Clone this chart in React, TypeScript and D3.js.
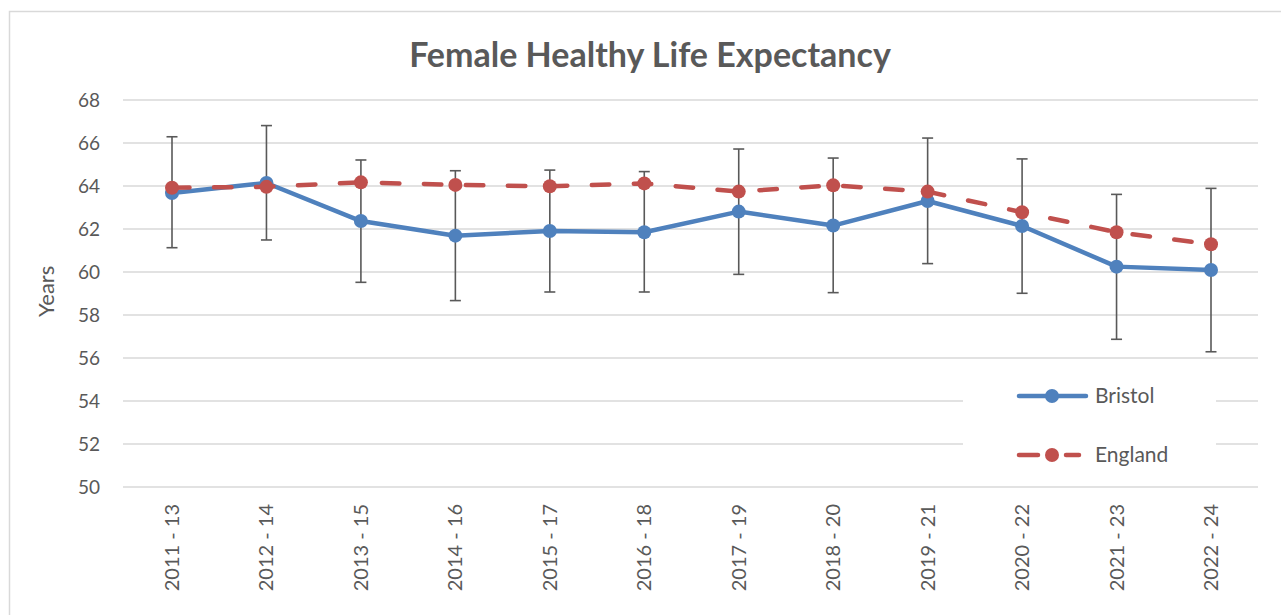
import React from 'react';
import * as d3 from 'd3';

// data
const periods = ['2011 - 13', '2012 - 14', '2013 - 15', '2014 - 16', '2015 - 17', '2016 - 18',
  '2017 - 19', '2018 - 20', '2019 - 21', '2020 - 22', '2021 - 23', '2022 - 24'];
const bristol = [63.67, 64.14, 62.37, 61.69, 61.91, 61.85, 62.81, 62.16, 63.30, 62.14, 60.25, 60.09];
const bristolLower = [61.13, 61.49, 59.52, 58.67, 59.07, 59.07, 59.89, 59.04, 60.39, 59.01, 56.87, 56.29];
const bristolUpper = [66.29, 66.81, 65.21, 64.71, 64.74, 64.67, 65.72, 65.30, 66.23, 65.26, 63.61, 63.89];
const england = [63.92, 63.96, 64.17, 64.05, 63.99, 64.12, 63.74, 64.03, 63.74, 62.78, 61.85, 61.29];
const yTicks = [50, 52, 54, 56, 58, 60, 62, 64, 66, 68];

const W = 1281;
const H = 615;
const FONT = 'Lato, "Open Sans", sans-serif';
const TEXT = '#595959';
const BLUE = '#4f81bd';
const RED = '#c0504d';

export default function App() {
  const x = d3.scalePoint<string>().domain(periods).range([172, 1211]);
  const y = d3.scaleLinear().domain([50, 68]).range([487, 100]);
  const left = 123;
  const right = 1258;

  const line = d3.line<number>()
    .x((_, i) => x(periods[i])!)
    .y(d => y(d));

  return (
    <svg width={W} height={H} style={{ position: 'absolute', left: 0, top: 0, background: '#fff' }}
      fontFamily={FONT}>
      <rect x={9.5} y={11.5} width={1280} height={640} fill="#fff" stroke="#d9d9d9" strokeWidth={1.5} />

      <text x={650} y={67} textAnchor="middle" fontSize={34} fontWeight="bold" fill={TEXT}>
        Female Healthy Life Expectancy
      </text>

      {yTicks.map(t => (
        <g key={t}>
          <line x1={left} x2={right} y1={y(t)} y2={y(t)} stroke="#d9d9d9" strokeWidth={1.5} />
          <text x={100} y={y(t)} dy="0.35em" textAnchor="end" fontSize={19} fill={TEXT}>{t}</text>
        </g>
      ))}

      <text transform={`translate(54,${y(59.1)}) rotate(-90)`} textAnchor="middle" fontSize={22} fill={TEXT}>
        Years
      </text>

      {periods.map(p => (
        <text key={p} transform={`translate(${x(p)! + 7},504) rotate(-90)`} textAnchor="end"
          fontSize={20} fill={TEXT}>{p}</text>
      ))}

      {/* error bars on Bristol */}
      {periods.map((p, i) => (
        <g key={p} stroke="#595959" strokeWidth={1.6}>
          <line x1={x(p)} x2={x(p)} y1={y(bristolUpper[i])} y2={y(bristolLower[i])} />
          <line x1={x(p)! - 5.5} x2={x(p)! + 5.5} y1={y(bristolUpper[i])} y2={y(bristolUpper[i])} />
          <line x1={x(p)! - 5.5} x2={x(p)! + 5.5} y1={y(bristolLower[i])} y2={y(bristolLower[i])} />
        </g>
      ))}

      <path d={line(bristol)!} fill="none" stroke={BLUE} strokeWidth={4.5} strokeLinejoin="round" />
      {bristol.map((v, i) => (
        <circle key={i} cx={x(periods[i])} cy={y(v)} r={7} fill={BLUE} />
      ))}

      <path d={line(england)!} fill="none" stroke={RED} strokeWidth={4.5} strokeDasharray="17.5 24.5"
        strokeLinecap="round" strokeLinejoin="round" />
      {england.map((v, i) => (
        <circle key={i} cx={x(periods[i])} cy={y(v)} r={7} fill={RED} />
      ))}

      {/* legend */}
      <rect x={963} y={376} width={253} height={103} fill="#fff" />
      <line x1={1019} x2={1086} y1={396} y2={396} stroke={BLUE} strokeWidth={4.5} strokeLinecap="round" />
      <circle cx={1052} cy={396} r={7} fill={BLUE} />
      <text x={1095} y={396} dy="0.35em" fontSize={21} fill={TEXT}>Bristol</text>
      <line x1={1019} x2={1038} y1={455} y2={455} stroke={RED} strokeWidth={4.5} strokeLinecap="round" />
      <line x1={1066} x2={1079} y1={455} y2={455} stroke={RED} strokeWidth={4.5} strokeLinecap="round" />
      <circle cx={1052} cy={455} r={7} fill={RED} />
      <text x={1095} y={455} dy="0.35em" fontSize={21} fill={TEXT}>England</text>
    </svg>
  );
}
